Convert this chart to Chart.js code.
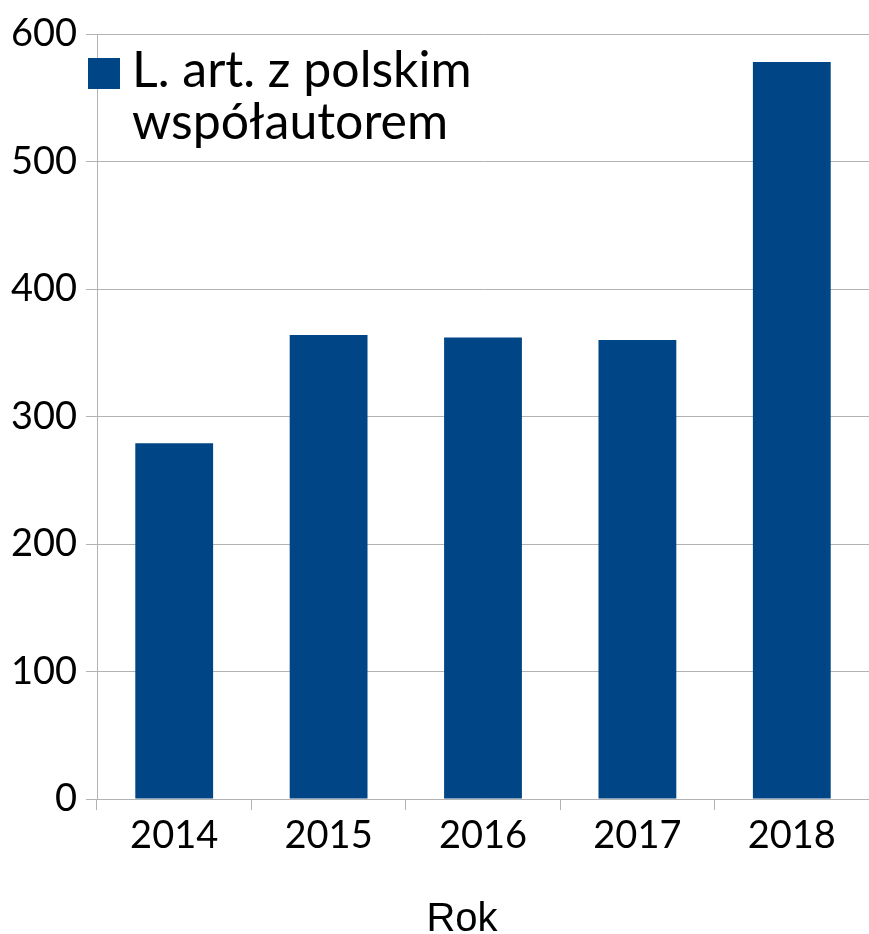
<!DOCTYPE html>
<html>
<head>
<meta charset="utf-8">
<script src="https://cdn.jsdelivr.net/npm/chart.js@4"></script>
<style>
    html, body { margin: 0; padding: 0; background: #fff; }
    #wrap { width: 869px; height: 934px; }
</style>
</head>
<body>
<div id="wrap"><canvas id="chart"></canvas></div>
<script>
// Data
const years = ['2014', '2015', '2016', '2017', '2018'];
const articles = [279, 364, 362, 360, 578];
const seriesName = ['L. art. z polskim', 'współautorem'];
const axisTitle = 'Rok';

const barColor = '#004586';
const gridColor = '#b3b3b3';

// legend sits inside the plot, top left, text on two lines
// axis title is drawn here too, it is not centred on the plot in the original
const extras = {
    id: 'extras',
    afterDraw(chart) {
        const ctx = chart.ctx;
        const area = chart.chartArea;
        const x = area.left - 9;
        const y = area.top + 24;
        ctx.save();
        ctx.fillStyle = barColor;
        ctx.fillRect(x, y, 32, 31);
        ctx.fillStyle = '#000';
        ctx.font = '50px Lato';
        ctx.textBaseline = 'alphabetic';
        ctx.fillText(seriesName[0], x + 44, y + 29);
        ctx.fillText(seriesName[1], x + 44, y + 81);

        ctx.font = '40px "Liberation Sans"';
        ctx.textAlign = 'center';
        ctx.fillText(axisTitle, area.left + 365, chart.height - 3);
        ctx.restore();
    }
};

new Chart(document.getElementById('chart'), {
    type: 'bar',
    data: {
        labels: years,
        datasets: [{
            label: seriesName.join(' '),
            data: articles,
            backgroundColor: barColor,
            categoryPercentage: 1,
            barPercentage: 0.504
        }]
    },
    options: {
        responsive: true,
        maintainAspectRatio: false,
        animation: false,
        layout: { padding: { top: 34, right: 0, left: 0, bottom: 0 } },
        plugins: {
            legend: { display: false },
            tooltip: { enabled: false }
        },
        scales: {
            x: {
                grid: {
                    color: gridColor,
                    drawOnChartArea: false,
                    tickLength: 11,
                    offset: true
                },
                border: { color: gridColor },
                ticks: { color: '#000', font: { family: 'Lato', size: 38 }, padding: 3 },
                afterFit: (scale) => { scale.height = 135; }
            },
            y: {
                min: 0,
                max: 600,
                grid: { color: gridColor, tickLength: 11 },
                border: { color: gridColor },
                ticks: { stepSize: 100, color: '#000', font: { family: 'Lato', size: 38 }, padding: 9 },
                afterFit: (scale) => { scale.width = 97; }
            }
        }
    },
    plugins: [extras]
});
</script>
</body>
</html>
